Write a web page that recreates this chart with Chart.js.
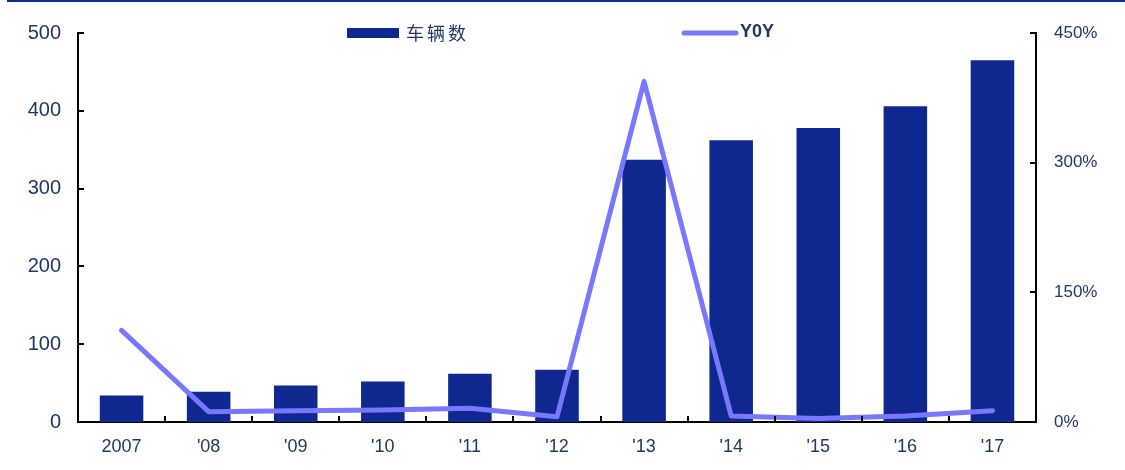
<!DOCTYPE html>
<html>
<head>
<meta charset="utf-8">
<script src="https://cdn.jsdelivr.net/npm/chart.js@4/dist/chart.umd.min.js"></script>
<style>
  html, body { margin: 0; padding: 0; background: #fff; }
  canvas { display: block; }
</style>
</head>
<body>
<canvas id="vehicleChart" width="1125" height="470"></canvas>
<script>
// vehicles per year + year-over-year growth
const years = ['2007', "'08", "'09", "'10", "'11", "'12", "'13", "'14", "'15", "'16", "'17"];
const vehicles = [34, 39, 47, 52, 62, 67, 337, 362, 378, 406, 465];
const yoy = [106, 12, 13, 14, 16, 6, 394, 7, 4, 7, 13];

const leftTicks = [0, 100, 200, 300, 400, 500];
const rightTicks = [0, 150, 300, 450];

const barColor = '#0f288f';
const lineColor = '#7878ff';
const textColor = '#1f3864';

// short tick marks pointing into the plot, plus the rule along the top
const innerTicks = {
  id: 'innerTicks',
  afterDraw(chart) {
    const ctx = chart.ctx;
    const { x, y, y1 } = chart.scales;
    const len = 6;
    ctx.save();
    ctx.strokeStyle = '#000';
    ctx.lineWidth = 2;
    ctx.beginPath();
    y.ticks.forEach((t, i) => {
      const py = Math.round(y.getPixelForTick(i));
      ctx.moveTo(y.right, py);
      ctx.lineTo(y.right + len, py);
    });
    y1.ticks.forEach((t, i) => {
      const py = Math.round(y1.getPixelForTick(i));
      ctx.moveTo(y1.left - len, py);
      ctx.lineTo(y1.left, py);
    });
    for (let i = 0; i < years.length - 1; i++) {
      const px = Math.round((x.getPixelForValue(i) + x.getPixelForValue(i + 1)) / 2);
      ctx.moveTo(px, x.top);
      ctx.lineTo(px, x.top - len);
    }
    ctx.stroke();

    ctx.fillStyle = '#0e2d8e';
    ctx.fillRect(7, 0, chart.width - 7, 2);
    ctx.restore();
  }
};

// legend placed by hand above the plot
const topLegend = {
  id: 'topLegend',
  afterDraw(chart) {
    const ctx = chart.ctx;
    const [bars, line] = chart.data.datasets;
    ctx.save();
    ctx.fillStyle = bars.backgroundColor;
    ctx.fillRect(347, 28, 52, 10);
    ctx.fillStyle = textColor;
    ctx.textBaseline = 'middle';
    ctx.font = '18px "Noto Sans CJK SC"';
    ctx.letterSpacing = '3px';
    ctx.fillText(bars.label, 406, 33);

    ctx.strokeStyle = line.borderColor;
    ctx.lineWidth = 5;
    ctx.lineCap = 'round';
    ctx.beginPath();
    ctx.moveTo(684, 33);
    ctx.lineTo(736, 33);
    ctx.stroke();
    ctx.letterSpacing = '0px';
    ctx.font = 'bold 18px "Liberation Sans"';
    ctx.fillText(line.label, 740, 32);
    ctx.restore();
  }
};

new Chart(document.getElementById('vehicleChart'), {
  data: {
    labels: years,
    datasets: [
      {
        type: 'bar',
        label: '车辆数',
        data: vehicles,
        backgroundColor: barColor,
        barPercentage: 0.5,
        categoryPercentage: 1.0,
        yAxisID: 'y',
        order: 2
      },
      {
        type: 'line',
        label: 'Y0Y',
        data: yoy,
        borderColor: lineColor,
        borderWidth: 5,
        borderCapStyle: 'round',
        borderJoinStyle: 'round',
        pointRadius: 0,
        tension: 0,
        yAxisID: 'y1',
        order: 1
      }
    ]
  },
  options: {
    responsive: false,
    animation: false,
    layout: { padding: { top: 33, left: 0, right: 0, bottom: 0 } },
    plugins: {
      legend: { display: false },
      tooltip: { enabled: false }
    },
    scales: {
      x: {
        offset: true,
        afterFit(scale) { scale.height = 48; },
        grid: { display: false, drawTicks: false },
        border: { color: '#000', width: 2 },
        ticks: { color: textColor, font: { family: 'Liberation Sans', size: 18 }, padding: 14 }
      },
      y: {
        position: 'left',
        min: 0,
        max: 500,
        afterFit(scale) { scale.width = 78; },
        afterBuildTicks(scale) { scale.ticks = leftTicks.map(v => ({ value: v })); },
        grid: { display: false, drawTicks: false },
        border: { color: '#000', width: 2 },
        ticks: { color: textColor, font: { family: 'Liberation Sans', size: 20 }, padding: 17 }
      },
      y1: {
        position: 'right',
        min: 0,
        max: 450,
        afterFit(scale) { scale.width = 89; },
        afterBuildTicks(scale) { scale.ticks = rightTicks.map(v => ({ value: v })); },
        grid: { display: false, drawTicks: false },
        border: { color: '#000', width: 2 },
        ticks: {
          color: textColor,
          font: { family: 'Liberation Sans', size: 17 },
          padding: 18,
          callback: v => v + '%'
        }
      }
    }
  },
  plugins: [innerTicks, topLegend]
});
</script>
</body>
</html>
